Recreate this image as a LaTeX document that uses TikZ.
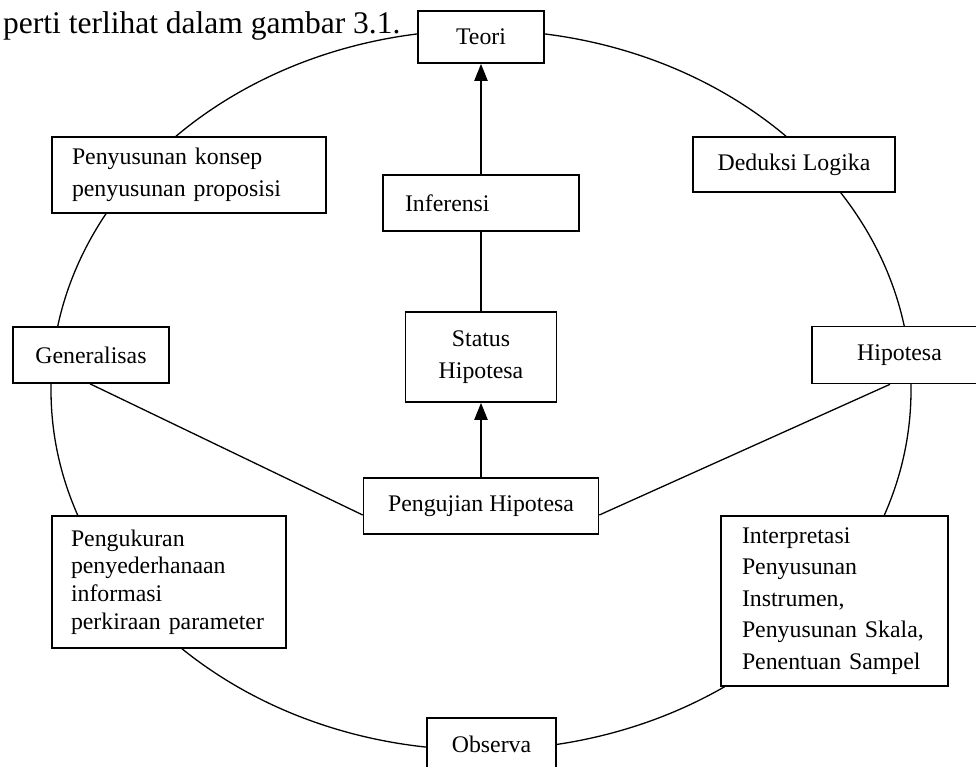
\documentclass[tikz,border=0pt]{standalone}
\usepackage{fontspec}
\setmainfont{Liberation Serif}
\usetikzlibrary{arrows.meta,backgrounds}

\tikzset{
  kotak/.style={draw, fill=white, line width=1.6pt, inner sep=0pt, align=center},
  garis/.style={line width=1.3pt},
  panah/.style={->, line width=2.2pt}
}

\begin{document}
\begin{tikzpicture}[x=1pt, y=-1pt, >={Triangle[length=17pt,width=13pt]},
    every node/.style={font=\fontsize{23.8}{29}\selectfont}]
    \useasboundingbox (0,0) rectangle (976,766);

    % Sentence fragment above the figure
    \node[anchor=base west, inner sep=0pt, font=\fontsize{31.5}{36}\selectfont] (judul) at (3,33) {perti terlihat dalam gambar 3.1.};

    % Centre column: Teori - Inferensi - Status Hipotesa - Pengujian Hipotesa
    \node[kotak, minimum width=126pt, minimum height=52pt] (teori) at (481,37) {Teori};
    \node[kotak, minimum width=196pt, minimum height=56pt, text width=152pt, inner xsep=22pt, align=left] (inferensi) at (481,203) {Inferensi};
    \node[kotak, minimum width=151pt, minimum height=90pt, font=\fontsize{23.8}{31.5}\selectfont] (status) at (481,357) {Status\\Hipotesa};
    \node[kotak, minimum width=235pt, minimum height=56pt] (pengujian) at (481,506) {Pengujian Hipotesa};

    % Boxes on the cycle, left side
    \node[kotak, minimum width=274pt, minimum height=76pt, text width=234pt, inner xsep=20pt, align=left, font=\fontsize{23.8}{32.5}\selectfont] (konsep) at (189,175) {Penyusunan konsep\\penyusunan proposisi};
    \node[kotak, minimum width=156pt, minimum height=56pt] (gen) at (91,355) {Generalisas};
    \node[kotak, minimum width=234pt, minimum height=132pt, text width=196pt, inner xsep=19pt, align=left, font=\fontsize{23.8}{27.7}\selectfont] (ukur) at (169,582) {Pengukuran\\penyederhanaan\\informasi\\perkiraan parameter};

    % Boxes on the cycle, right side
    \node[kotak, minimum width=202pt, minimum height=55pt] (deduksi) at (794,164.5) {Deduksi Logika};
    \node[kotak, minimum width=175pt, minimum height=57pt] (hip) at (899.5,355) {Hipotesa};
    \node[kotak, minimum width=227pt, minimum height=170pt, text width=185pt, inner xsep=21pt, align=left, font=\fontsize{23.8}{31.5}\selectfont] (interp) at (834.5,601) {Interpretasi\\Penyusunan\\Instrumen,\\Penyusunan Skala,\\Penentuan Sampel};

    % Bottom of the cycle
    \node[kotak, minimum width=129pt, minimum height=52pt] (observa) at (491.5,744) {Observa};

    % Connectors in the centre
    \draw[panah] (inferensi.north) -- (teori.south);
    \draw[garis] (inferensi.south) -- (status.north);
    \draw[panah] (pengujian.north) -- (status.south);
    \draw[garis] ([xshift=-1pt]gen.south) -- ([yshift=-9pt]pengujian.west);
    \draw[garis] ([xshift=-9.5pt]hip.south) -- ([yshift=-9pt]pengujian.east);

    % The cycle itself, behind the boxes
    \begin{scope}[on background layer]
        \draw[garis] (481,390) ellipse [x radius=430pt, y radius=360pt];
    \end{scope}
\end{tikzpicture}
\end{document}
